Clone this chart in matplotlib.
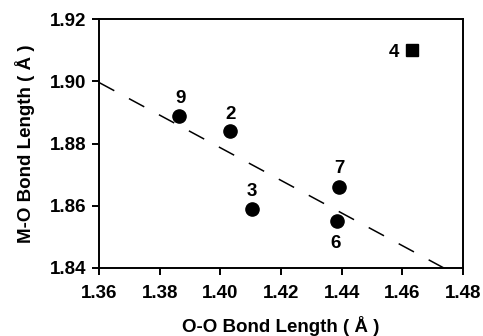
import numpy as np
import matplotlib
matplotlib.use("Agg")
import matplotlib.pyplot as plt

plt.rcParams['font.family'] = ['Liberation Sans', 'DejaVu Sans']
plt.rcParams['font.weight'] = 'bold'
plt.rcParams['lines.scale_dashes'] = False

# data
labels = ["9", "2", "3", "7", "6"]
oo = [1.3863, 1.4032, 1.4103, 1.4391, 1.4383]
mo = [1.8889, 1.8840, 1.8589, 1.8659, 1.8550]
sq_label = "4"
sq_oo = [1.4631]
sq_mo = [1.9100]
xticks = [1.36, 1.38, 1.40, 1.42, 1.44, 1.46, 1.48]
yticks = [1.84, 1.86, 1.88, 1.90, 1.92]

fig = plt.figure(figsize=(4.83, 3.36), dpi=100)
ax = fig.add_axes([99/483, 1-268/336, 364/483, 249/336])

# fit line
slope, icpt = np.polyfit(oo, mo, 1)
xf = np.array([1.36, 1.48])
ax.plot(xf, slope*xf + icpt, color='black', lw=1.1, dashes=(12.5, 12), zorder=1)

ax.plot(oo, mo, 'o', color='black', ms=9.5, zorder=3)
ax.plot(sq_oo, sq_mo, 's', color='black', ms=8, zorder=3)

offsets = {"9": (1, 13.7), "2": (0.7, 13.2), "3": (0, 13.9), "7": (0.7, 14.9), "6": (-0.5, -14.7)}
for lab, x, y in zip(labels, oo, mo):
    dx, dy = offsets[lab]
    ax.annotate(lab, (x, y), xytext=(dx, dy), textcoords='offset points',
                ha='center', va='center_baseline', fontsize=13.5, fontweight='bold')
ax.annotate(sq_label, (sq_oo[0], sq_mo[0]), xytext=(-12.5, 0), textcoords='offset points',
            ha='center', va='center_baseline', fontsize=13.5, fontweight='bold')

ax.set_xlim(1.36, 1.48)
ax.set_ylim(1.84, 1.92)
ax.set_xticks(xticks)
ax.set_yticks(yticks)
ax.set_xticklabels([f"{t:.2f}" for t in xticks])
ax.set_yticklabels([f"{t:.2f}" for t in yticks])
ax.tick_params(direction='out', length=5, width=1.4, labelsize=13.5)
ax.tick_params(axis='x', pad=7.5)
ax.tick_params(axis='y', pad=4)
for s in ax.spines.values():
    s.set_linewidth(1.4)

ax.set_xlabel("O-O Bond Length ( Å )", fontsize=13.5, fontweight='bold', labelpad=10)
ax.set_ylabel("M-O Bond Length ( Å )", fontsize=13.5, fontweight='bold', labelpad=11)

fig.savefig("out.png", dpi=100)
